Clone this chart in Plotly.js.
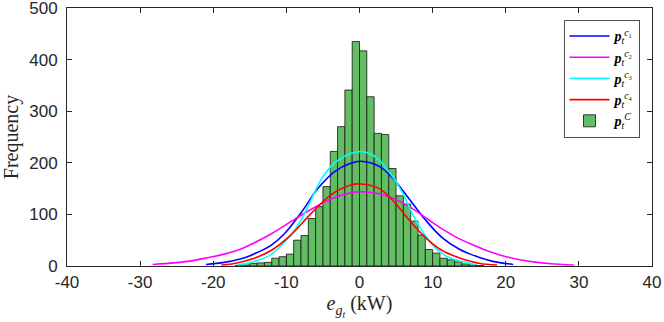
<!DOCTYPE html>
<html>
<head>
<meta charset="utf-8">
<script src="https://cdn.plot.ly/plotly-3.0.1.min.js"></script>
<style>html,body{margin:0;padding:0;background:#fff;}#chart{width:664px;height:322px;}</style>
</head>
<body>
<div id="chart"></div>
<script>
// Histogram (bin width 1 kW), bin left edges and counts
const binLeft = [-17,-16,-15,-14,-13,-12,-11,-10,-9,-8,-7,-6,-5,-4,-3,-2,-1,0,1,2,3,4,5,6,7,8,9,10,11,12,13,14,15,16];
const counts  = [1,2,5,6,7,15,18,23,50,59,92,115,154,222,270,341,435,417,328,257,255,189,136,120,87,60,32,25,15,12,8,4,2,1];

// Fitted curves
const c1x = [-21.0,-18.5,-16.2,-14.8,-12.1,-10.3,-8.0,-5.7,-3.4,-1.2,0.2,2.7,4.5,6.8,9.1,11.3,13.6,15.0,16.5,18.2,21.0];
const c1y = [3,7,14,21,40,62,103,150,183,199,203,193,171,130,88,55,33,24,16,9,3];

const c2x = [-28.3,-25.3,-23.0,-20.8,-18.5,-16.2,-14.8,-12.1,-9.4,-6.6,-3.9,-1.2,0.2,2.7,4.5,6.8,9.1,11.3,13.6,15.0,17.0,19.3,21.6,23.8,26.1,29.3];
const c2y = [3,6,10,16,23,33,42,62,86,110,130,142,144,140,132,115,93,72,53,44,32,21,13,8,4.5,2];

const c3x = [-16.7,-14.8,-12.1,-9.4,-8.0,-6.6,-5.3,-3.9,-2.5,-1.2,0.2,1.8,3.1,4.5,5.9,7.2,8.6,10.0,11.3,12.7,14.5,15.8];
const c3y = [2,7,22,60,89,129,166,193,209,218,222,215,199,174,141,102,67,41,24,14,7,3];

const c4x = [-18.9,-17.1,-14.8,-12.1,-9.4,-6.6,-3.9,-1.2,0.2,2.7,4.5,6.8,9.1,11.3,13.6,15.0,16.5,18.8];
const c4y = [2,5,13,30,60,102,138,157,159,150,128,89,54,30,16,10,5,2];

const xTicks = [-40,-30,-20,-10,0,10,20,30,40];
const xTickText = ['-40','-30','-20','-10','0','10','20','30','40'];
const yTicks = [0,100,200,300,400,500];
const yTickText = ['0','100','200','300','400','500'];

const names = [
  '<b><i>p</i></b><sub><i>t</i></sub><sup><i>c</i>\u2081</sup>',
  '<b><i>p</i></b><sub><i>t</i></sub><sup><i>c</i>\u2082</sup>',
  '<b><i>p</i></b><sub><i>t</i></sub><sup><i>c</i>\u2083</sup>',
  '<b><i>p</i></b><sub><i>t</i></sub><sup><i>c</i>\u2084</sup>',
  '<b><i>p</i></b><sub><i>t</i></sub><sup><i>C</i></sup>'
];

const lineW = 1.6;
const data = [
  {type:'scatter', mode:'lines', x:c1x, y:c1y, name:names[0], line:{color:'#0000FF', width:lineW, shape:'spline', smoothing:1}},
  {type:'scatter', mode:'lines', x:c2x, y:c2y, name:names[1], line:{color:'#FF00FF', width:lineW, shape:'spline', smoothing:1}},
  {type:'scatter', mode:'lines', x:c3x, y:c3y, name:names[2], line:{color:'#00FFFF', width:lineW, shape:'spline', smoothing:1}},
  {type:'scatter', mode:'lines', x:c4x, y:c4y, name:names[3], line:{color:'#FF0000', width:lineW, shape:'spline', smoothing:1}},
  {type:'bar', x:binLeft, y:counts, offset:0, width:1, name:names[4],
   marker:{color:'#62BE62', line:{color:'rgba(30,30,30,0.85)', width:1}}}
];

const tickFont = {family:'Liberation Sans, Arial, sans-serif', size:17, color:'#262626'};
const titleFont = {family:'Liberation Serif, Times New Roman, serif', size:20, color:'#262626'};
const axisCommon = {
  showgrid:false, zeroline:false, showline:true, mirror:'ticks',
  linecolor:'#262626', linewidth:1, ticks:'inside', ticklen:5, tickcolor:'#262626',
  tickfont:tickFont, ticklabeloverflow:'allow'
};

const layout = {
  width:664, height:322,
  margin:{l:67, r:12, t:8, b:56},
  paper_bgcolor:'#fff', plot_bgcolor:'#fff',
  showlegend:true,
  bargap:0,
  xaxis:Object.assign({}, axisCommon, {
    range:[-40,40], tickmode:'array', tickvals:xTicks, ticktext:xTickText,
    ticklabelstandoff:1,
    title:{text:'<i>e</i><sub><i>g</i><sub><i>t</i></sub></sub> (kW)', standoff:2, font:titleFont}
  }),
  yaxis:Object.assign({}, axisCommon, {
    range:[0,500], tickmode:'array', tickvals:yTicks, ticktext:yTickText,
    ticklabelstandoff:5,
    title:{text:'Frequency', standoff:5, font:titleFont}
  }),
  legend:{
    x:0.979, xanchor:'right', y:0.955, yanchor:'top',
    bgcolor:'#fff', bordercolor:'#262626', borderwidth:0.8,
    font:{family:'Liberation Serif, Times New Roman, serif', size:14, color:'#000'},
    itemwidth:40, tracegroupgap:0, traceorder:'normal'
  }
};

Plotly.newPlot('chart', data, layout, {displayModeBar:false, staticPlot:true});
</script>
</body>
</html>
